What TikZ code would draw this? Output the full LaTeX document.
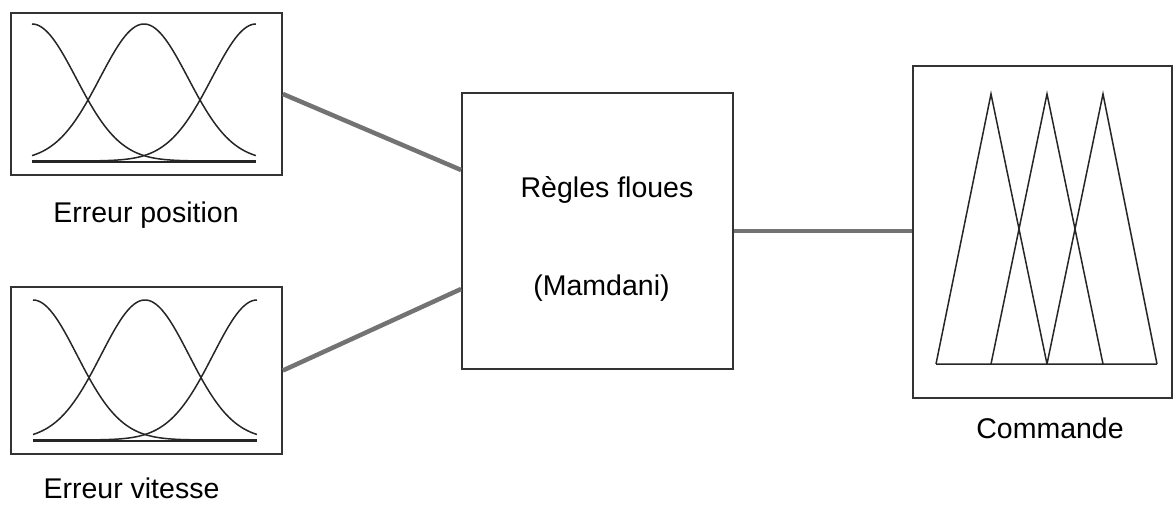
\documentclass[tikz,border=0pt]{standalone}
\usepackage{fontspec}
\setmainfont{Liberation Sans}
\usetikzlibrary{calc}
\tikzset{
  panel/.style={draw=black!80, line width=1.8pt, inner sep=0pt, fill=none},
  link/.style={draw=black!55, line width=4.5pt},
  curve/.style={draw=black!85, line width=1.5pt},
  lbl/.style={anchor=base, inner sep=0pt, font=\fontsize{28.5}{34}\selectfont}
}
\newcommand\mfcurves[3]{%
  \begin{scope}[shift={(#1,#2)}]
    \foreach \c in {-1,0,1}{
      \draw[curve] plot[domain=-1:1,samples=90,smooth] ({112*\x},{-#3*exp(-((\x-\c)^2)/0.309)});
    }
    \draw[curve] (-112,1) -- (112,1);
  \end{scope}}
\begin{document}
\begin{tikzpicture}[x=1pt,y=-1pt]
\useasboundingbox (0,0) rectangle (1173,505);
% boxes
\node[panel, minimum width=271pt, minimum height=162pt] (pos) at (146.5,94) {};
\node[panel, minimum width=271pt, minimum height=167pt] (vit) at (146.5,370.5) {};
\node[panel, minimum width=271pt, minimum height=276pt] (rules) at (597.5,231) {};
\node[panel, minimum width=259pt, minimum height=332pt] (cmd) at (1042.5,232) {};
% membership functions
\mfcurves{144}{161}{137}
\mfcurves{145}{440}{140}
\draw[curve] (936,364) -- (991,94) -- (1047,364)
             (991,364) -- (1047,94) -- (1103,364)
             (1047,364) -- (1103,94) -- (1157,364)
             (936,364) -- (1157,364);
% texts
\node[lbl] (tpos) at (146,223) {Erreur position};
\node[lbl] (tvit) at (131.5,498) {Erreur vitesse};
\node[lbl] (tcmd) at (1050,438) {Commande};
\node[lbl] (tr1) at (607,198) {Règles floues};
\node[lbl] (tr2) at (601.5,295) {(Mamdani)};
% connectors
\coordinate (rin1) at ([yshift=61pt]rules.west);
\coordinate (rin2) at ([yshift=-58pt]rules.west);
\draw[link] (pos.east) -- (rin1);
\draw[link] (vit.east) -- (rin2);
\draw[link] (rules.east) -- (rules.east -| cmd.west);
\end{tikzpicture}
\end{document}
